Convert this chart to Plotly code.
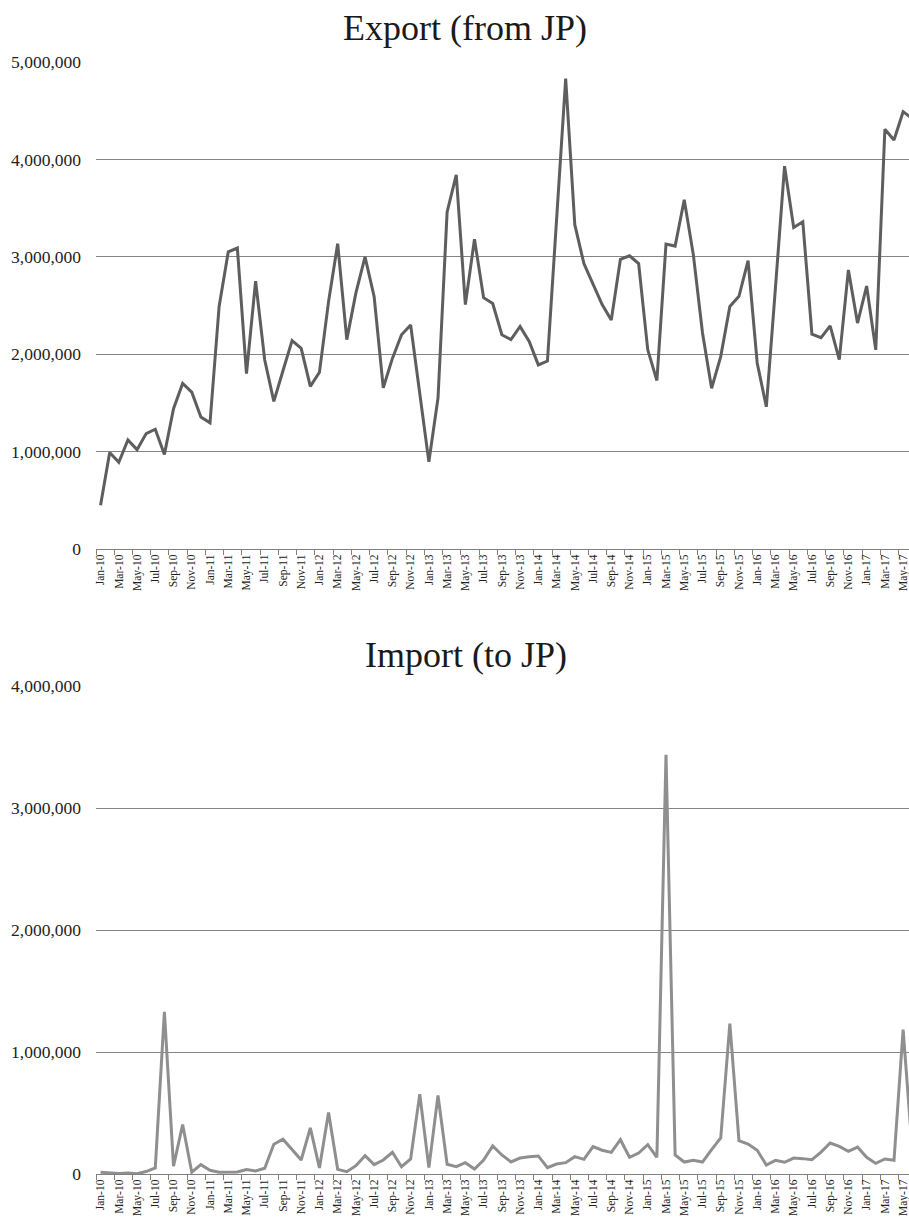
import pandas as pd
import plotly.graph_objects as go

# Monthly categories Jan-10 .. Jun-17
months = [d.strftime("%b-%y") for d in pd.date_range("2010-01-01", "2017-06-01", freq="MS")]

export_vals = [
    450000, 990000, 890000, 1120000, 1020000, 1185000, 1230000, 970000, 1440000, 1700000,
    1610000, 1355000, 1295000, 2490000, 3050000, 3090000, 1800000, 2750000, 1940000, 1515000,
    1830000, 2140000, 2060000, 1670000, 1815000, 2540000, 3135000, 2150000, 2630000, 3000000,
    2590000, 1655000, 1957000, 2200000, 2300000, 1570000, 895000, 1550000, 3460000, 3840000,
    2510000, 3180000, 2580000, 2520000, 2200000, 2150000, 2285000, 2130000, 1890000, 1930000,
    3380000, 4830000, 3330000, 2930000, 2720000, 2510000, 2350000, 2975000, 3010000, 2930000,
    2045000, 1730000, 3130000, 3110000, 3585000, 3020000, 2220000, 1650000, 1975000, 2490000,
    2595000, 2960000, 1910000, 1460000, 2680000, 3930000, 3300000, 3360000, 2205000, 2170000,
    2290000, 1945000, 2865000, 2320000, 2700000, 2045000, 4310000, 4200000, 4490000, 4420000,
]

import_vals = [
    15000, 11000, 5000, 8000, 3000, 20000, 50000, 1330000, 65000, 405000,
    15000, 77000, 30000, 14000, 14000, 16000, 36000, 25000, 47000, 244000,
    285000, 200000, 115000, 378000, 50000, 504000, 38000, 19000, 68000, 150000,
    77000, 115000, 178000, 60000, 123000, 655000, 52000, 644000, 80000, 60000,
    93000, 41000, 115000, 230000, 156000, 99000, 131000, 142000, 148000, 52000,
    82000, 93000, 142000, 120000, 225000, 195000, 177000, 281000, 137000, 172000,
    240000, 137000, 3437000, 156000, 98000, 112000, 98000, 200000, 295000, 1232000,
    273000, 246000, 194000, 74000, 112000, 96000, 131000, 126000, 117000, 180000,
    254000, 227000, 186000, 221000, 137000, 87000, 123000, 112000, 1183000, 195000,
]

titles = ["Export (from JP)", "Import (to JP)"]

FONT = "Liberation Serif, Times New Roman, serif"
idx = list(range(len(months)))

fig = go.Figure()
fig.add_trace(go.Scatter(x=idx, y=export_vals, mode="lines",
                         line=dict(color="#5e5e5e", width=3), xaxis="x", yaxis="y",
                         showlegend=False, hoverinfo="skip"))
fig.add_trace(go.Scatter(x=idx, y=import_vals, mode="lines",
                         line=dict(color="#8f8f8f", width=3), xaxis="x2", yaxis="y2",
                         showlegend=False, hoverinfo="skip"))

W, H = 909, 1220
left = 96
cat_w = 9.12
x_end = -0.5 + (W - left) / cat_w

tickvals = [i for i in idx if i % 2 == 0]
ticktext = [months[i] for i in tickvals]
minor_vals = [i - 0.5 for i in tickvals]

def xaxis_cfg(anchor):
    return dict(
        domain=[0, 1], anchor=anchor, range=[-0.5, x_end], automargin=False,
        tickmode="array", tickvals=tickvals, ticktext=ticktext,
        tickangle=-90, ticks="outside", ticklen=0, tickcolor="#808080",
        ticklabeloverflow="allow",
        tickfont=dict(family=FONT, size=11.5, color="#222"),
        showgrid=False, zeroline=False, showline=True, linecolor="#808080", linewidth=1,
        minor=dict(tickmode="array", tickvals=minor_vals, ticks="outside", ticklen=5,
                   tickcolor="#808080", tickwidth=1, showgrid=False),
        fixedrange=True,
    )

def yaxis_cfg(anchor, dom, top, step):
    return dict(
        domain=dom, anchor=anchor, range=[0, top], automargin=False,
        tickmode="linear", tick0=0, dtick=step, tickformat=",d",
        tickfont=dict(family=FONT, size=17.5, color="#222"),
        showgrid=True, gridcolor="#858585", gridwidth=1,
        zeroline=False, showline=False, ticks="", ticklabelstandoff=14,
        fixedrange=True,
    )

def py(ref_y):
    return 1 - ref_y / H

fig.update_layout(
    width=W, height=H,
    margin=dict(l=left, r=0, t=0, b=0, autoexpand=False),
    paper_bgcolor="white", plot_bgcolor="white",
    xaxis=xaxis_cfg("y"),
    yaxis=yaxis_cfg("x", [py(549), py(62)], 5000000, 1000000),
    xaxis2=xaxis_cfg("y2"),
    yaxis2=yaxis_cfg("x2", [py(1174), py(686)], 4000000, 1000000),
    annotations=[
        dict(text=titles[0], xref="paper", yref="paper", x=(465 - left) / (W - left),
             y=py(28), xanchor="center", yanchor="middle", showarrow=False,
             font=dict(family=FONT, size=36, color="#1a1a1a")),
        dict(text=titles[1], xref="paper", yref="paper", x=(466 - left) / (W - left),
             y=py(655), xanchor="center", yanchor="middle", showarrow=False,
             font=dict(family=FONT, size=36, color="#1a1a1a")),
    ],
)

fig.write_html(
    "out.html",
    config={"displayModeBar": False, "staticPlot": True},
    post_script="document.body.style.margin='0';document.body.style.overflow='hidden';",
)
